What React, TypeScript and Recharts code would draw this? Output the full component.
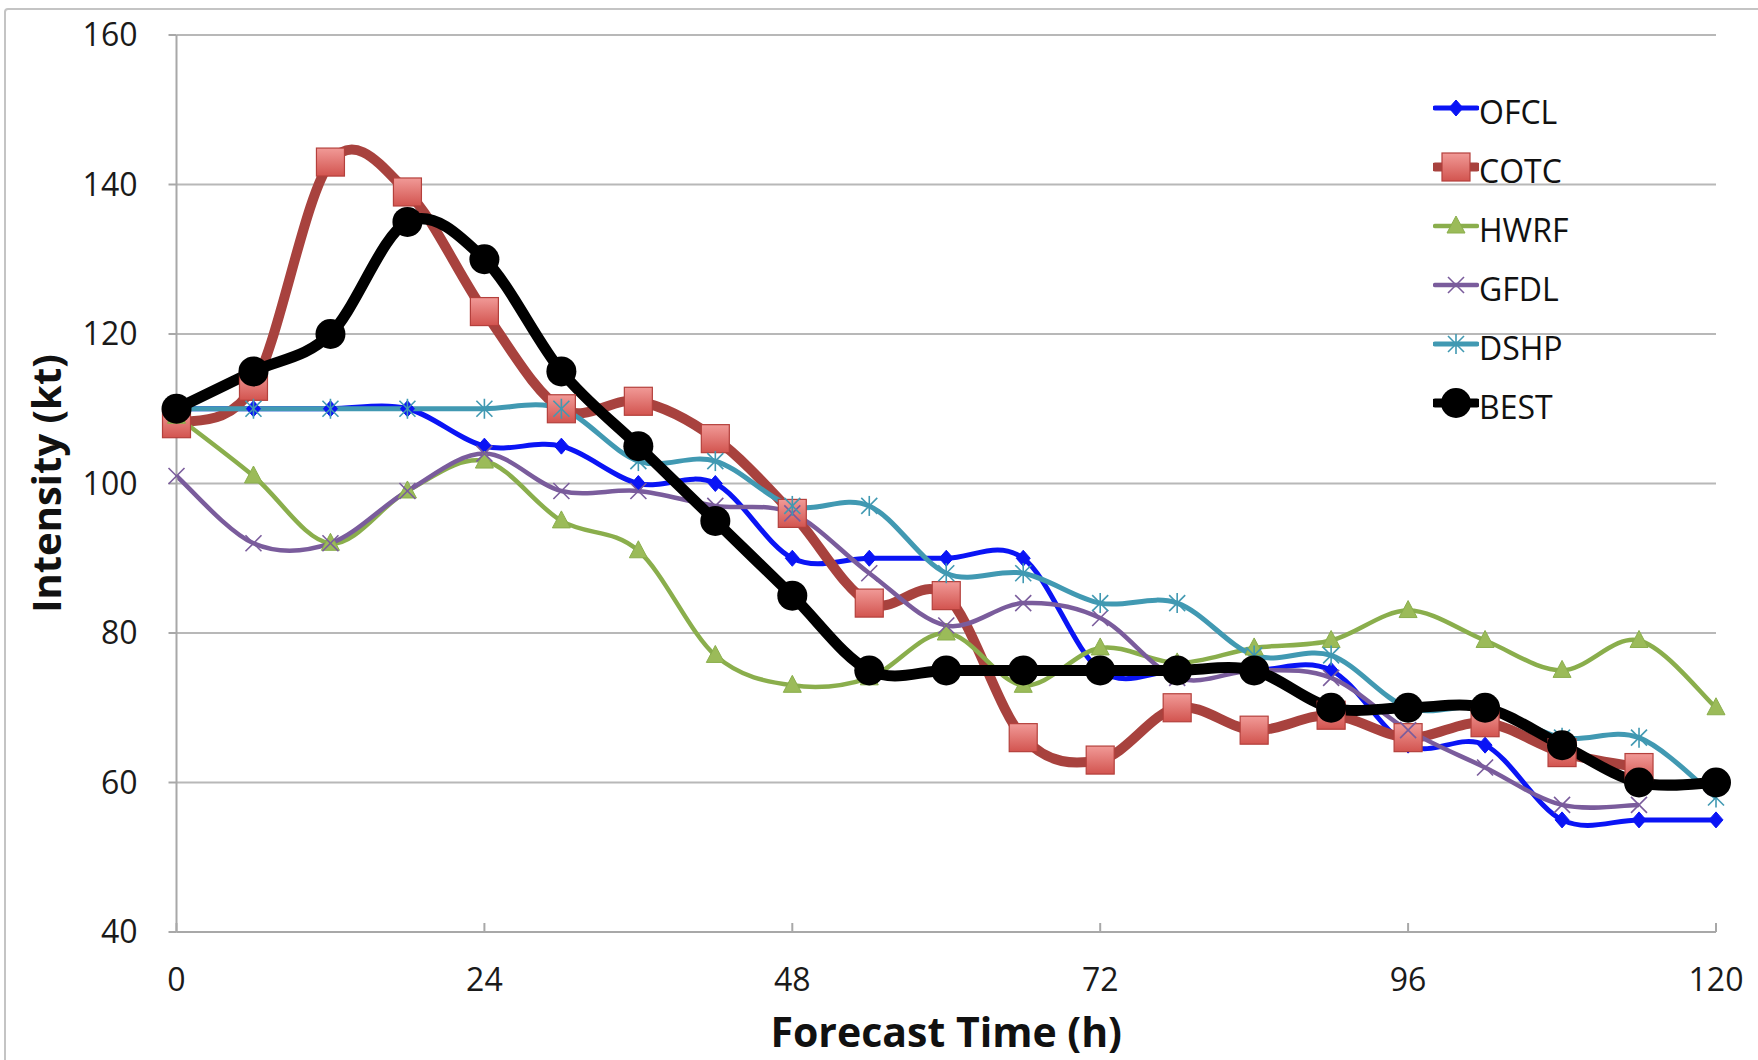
import React from 'react';
import { LineChart, Line, XAxis, YAxis, CartesianGrid, Legend } from 'recharts';

const hours = [0, 6, 12, 18, 24, 30, 36, 42, 48, 54, 60, 66, 72, 78, 84, 90, 96, 102, 108, 114, 120];
const OFCL = [110, 110, 110, 110, 105, 105, 100, 100, 90, 90, 90, 90, 75, 75, 75, 75, 65, 65, 55, 55, 55];
const COTC = [108, 113, 143, 139, 123, 110, 111, 106, 96, 84, 85, 66, 63, 70, 67, 69, 66, 68, 64, 62, null];
const HWRF = [109, 101, 92, 99, 103, 95, 91, 77, 73, 74, 80, 73, 78, 76, 78, 79, 83, 79, 75, 79, 70];
const GFDL = [101, 92, 92, 99, 104, 99, 99, 97, 96, 88, 81, 84, 82, 74, 75, 74, 67, 62, 57, 57, null];
const DSHP = [110, 110, 110, 110, 110, 110, 103, 103, 97, 97, 88, 88, 84, 84, 77, 77, 70, 70, 66, 66, 58];
const BEST = [110, 115, 120, 135, 130, 115, 105, 95, 85, 75, 75, 75, 75, 75, 75, 70, 70, 70, 65, 60, 60];

const xTicks = [0, 24, 48, 72, 96, 120];
const yTicks = [40, 60, 80, 100, 120, 140, 160];

const data = hours.map((t, i) => ({
  t,
  OFCL: OFCL[i],
  COTC: COTC[i],
  HWRF: HWRF[i],
  GFDL: GFDL[i],
  DSHP: DSHP[i],
  BEST: BEST[i],
}));

const FONT = '"Open Sans", Lato, sans-serif';

// Catmull-Rom style smoothing (similar to Excel's smoothed lines)
function smoothCurve(context: any) {
  let xs: number[] = [];
  let ys: number[] = [];
  return {
    areaStart() {},
    areaEnd() {},
    lineStart() {
      xs = [];
      ys = [];
    },
    point(x: number, y: number) {
      xs.push(+x);
      ys.push(+y);
    },
    lineEnd() {
      const n = xs.length;
      if (!n) return;
      context.moveTo(xs[0], ys[0]);
      if (n === 1) return;
      for (let i = 0; i < n - 1; i++) {
        const i0 = Math.max(0, i - 1);
        const i3 = Math.min(n - 1, i + 2);
        const c1x = xs[i] + (xs[i + 1] - xs[i0]) / 6;
        const c1y = ys[i] + (ys[i + 1] - ys[i0]) / 6;
        const c2x = xs[i + 1] - (xs[i3] - xs[i]) / 6;
        const c2y = ys[i + 1] - (ys[i3] - ys[i]) / 6;
        context.bezierCurveTo(c1x, c1y, c2x, c2y, xs[i + 1], ys[i + 1]);
      }
    },
  };
}

type MarkerKind = 'diamond' | 'square' | 'triangle' | 'x' | 'star' | 'circle';

function Marker({ kind, cx, cy, color }: { kind: MarkerKind; cx: number; cy: number; color: string }) {
  switch (kind) {
    case 'diamond':
      return <polygon points={`${cx},${cy - 8} ${cx + 7},${cy} ${cx},${cy + 8} ${cx - 7},${cy}`} fill={color} stroke={color} strokeWidth={1} />;
    case 'square':
      return <rect x={cx - 14} y={cy - 14} width={28} height={28} fill="url(#sqGrad)" stroke="#b4403c" strokeWidth={1.2} />;
    case 'triangle':
      return <polygon points={`${cx},${cy - 10} ${cx + 9},${cy + 7} ${cx - 9},${cy + 7}`} fill="#9bbb59" stroke="#8aae4c" strokeWidth={1} />;
    case 'x':
      return (
        <g stroke={color} strokeWidth={1.6}>
          <line x1={cx - 8} y1={cy - 8} x2={cx + 8} y2={cy + 8} />
          <line x1={cx - 8} y1={cy + 8} x2={cx + 8} y2={cy - 8} />
        </g>
      );
    case 'star':
      return (
        <g stroke={color} strokeWidth={1.6}>
          <line x1={cx - 8} y1={cy - 8} x2={cx + 8} y2={cy + 8} />
          <line x1={cx - 8} y1={cy + 8} x2={cx + 8} y2={cy - 8} />
          <line x1={cx} y1={cy - 10} x2={cx} y2={cy + 10} />
        </g>
      );
    case 'circle':
      return <circle cx={cx} cy={cy} r={15} fill="#000" />;
  }
  return null;
}

const series: { key: string; color: string; width: number; marker: MarkerKind }[] = [
  { key: 'OFCL', color: '#0a14f5', width: 5, marker: 'diamond' },
  { key: 'COTC', color: '#a8423e', width: 10, marker: 'square' },
  { key: 'HWRF', color: '#8aae4c', width: 4.5, marker: 'triangle' },
  { key: 'GFDL', color: '#7a5c9c', width: 4.5, marker: 'x' },
  { key: 'DSHP', color: '#4199b2', width: 5, marker: 'star' },
  { key: 'BEST', color: '#000000', width: 11, marker: 'circle' },
];

const LegendContent = () => (
  <div style={{ fontFamily: FONT, fontSize: 32, color: '#111' }}>
    {series.map((s) => (
      <div key={s.key} style={{ height: 59, display: 'flex', alignItems: 'center' }}>
        <svg width={46} height={40} style={{ display: 'block' }}>
          <line x1={2} y1={18} x2={44} y2={18} stroke={s.color} strokeWidth={Math.min(s.width, 9)} strokeLinecap="round" />
          <Marker kind={s.marker} cx={23} cy={18} color={s.color} />
        </svg>
        <span style={{ lineHeight: '40px', marginTop: 4 }}>{s.key}</span>
      </div>
    ))}
  </div>
);

const XTick = (props: any) => {
  const { x, y, payload } = props;
  return (
    <g>
      <line x1={x} y1={y} x2={x} y2={y - 9} stroke="#a8a8a8" strokeWidth={2} />
      <text x={x} y={y + 46} textAnchor="middle" dominantBaseline="central" fontFamily={FONT} fontSize={32} fill="#1a1a1a">
        {payload.value}
      </text>
    </g>
  );
};

export default function App() {
  return (
    <div style={{ position: 'absolute', left: 0, top: 0, width: 1758, height: 1060, overflow: 'hidden', background: '#fff' }}>
      <div
        style={{
          position: 'absolute',
          left: 4,
          top: 8,
          width: 1800,
          height: 1100,
          border: '2px solid #c4c4c4',
          borderRadius: 4,
        }}
      />
      <div style={{ position: 'absolute', left: 0, top: 0 }}>
        <LineChart width={1758} height={1060} data={data} margin={{ top: 35, right: 42, bottom: 28, left: 0 }}>
          <defs>
            <linearGradient id="sqGrad" x1="0" y1="0" x2="0" y2="1">
              <stop offset="0%" stopColor="#f19a97" />
              <stop offset="100%" stopColor="#d2544f" />
            </linearGradient>
          </defs>
          <CartesianGrid vertical={false} stroke="#b8b8b8" strokeWidth={2} />
          <XAxis
            dataKey="t"
            type="number"
            domain={[0, 120]}
            ticks={xTicks}
            interval={0}
            height={100}
            stroke="#a8a8a8"
            strokeWidth={2}
            tickLine={false}
            tickSize={0}
            tickMargin={0}
            tick={<XTick />}
            label={(props: any) => {
              const vb = props.viewBox;
              return (
                <text
                  x={vb.x + vb.width / 2}
                  y={vb.y + 99}
                  textAnchor="middle"
                  dominantBaseline="central"
                  fontFamily={FONT}
                  fontWeight="bold"
                  fontSize={41}
                  fill="#111"
                >
                  Forecast Time (h)
                </text>
              );
            }}
          />
          <YAxis
            type="number"
            domain={[40, 160]}
            ticks={yTicks}
            interval={0}
            width={176.5}
            stroke="#a8a8a8"
            strokeWidth={2}
            tickSize={8}
            tickMargin={31}
            tick={{ fontFamily: FONT, fontSize: 32, fill: '#1a1a1a' }}
            label={(props: any) => {
              const vb = props.viewBox;
              const cy = vb.y + vb.height / 2;
              return (
                <text
                  x={45}
                  y={cy}
                  textAnchor="middle"
                  dominantBaseline="central"
                  transform={`rotate(-90, 45, ${cy})`}
                  fontFamily={FONT}
                  fontWeight="bold"
                  fontSize={40}
                  fill="#111"
                >
                  Intensity (kt)
                </text>
              );
            }}
          />
          <Legend
            layout="vertical"
            align="center"
            verticalAlign="middle"
            content={<LegendContent />}
            wrapperStyle={{ position: 'absolute', left: 1433, top: 80, width: 220 }}
          />
          {series.map((s) => (
            <Line
              key={s.key}
              dataKey={s.key}
              type={smoothCurve as any}
              stroke={s.color}
              strokeWidth={s.width}
              isAnimationActive={false}
              dot={(p: any) =>
                p.value == null || p.cx == null ? <g key={`${s.key}-${p.index}`} /> : (
                  <g key={`${s.key}-${p.index}`}>
                    <Marker kind={s.marker} cx={p.cx} cy={p.cy} color={s.color} />
                  </g>
                )
              }
              activeDot={false}
              legendType="none"
            />
          ))}
        </LineChart>
      </div>
    </div>
  );
}
